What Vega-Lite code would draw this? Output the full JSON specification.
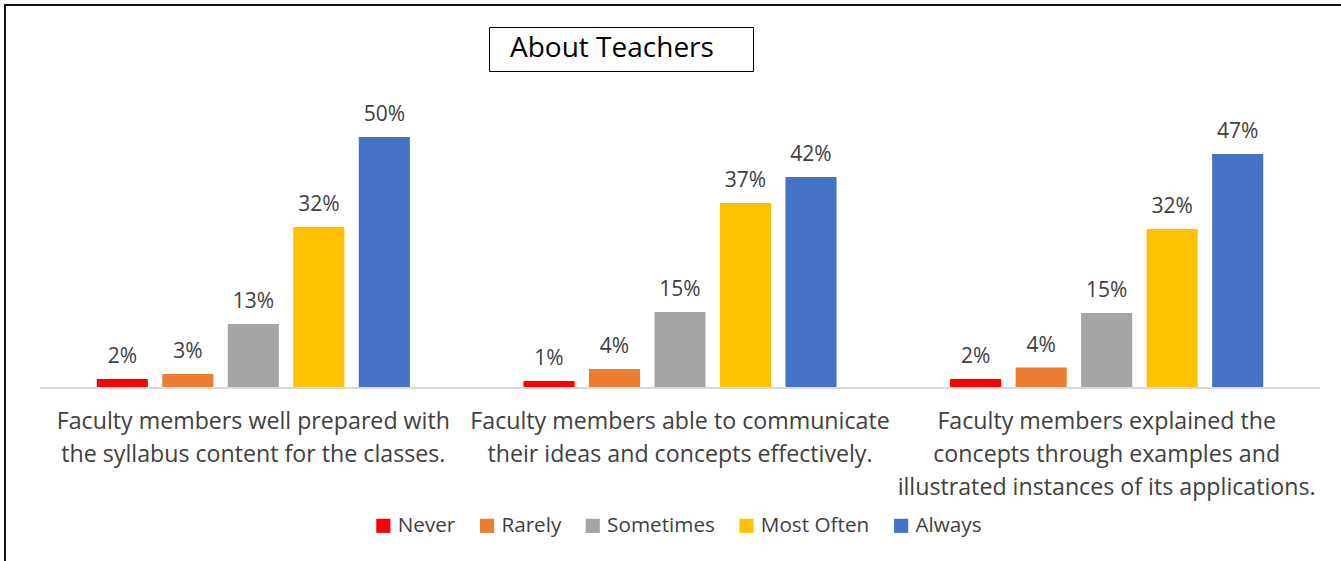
{
  "$schema": "https://vega.github.io/schema/vega-lite/v6.json",
  "width": 1342,
  "height": 562,
  "autosize": {"type": "none"},
  "padding": {"left": 5, "top": 5, "right": -6, "bottom": -6},
  "background": "white",
  "config": {
    "view": {"stroke": "#111111", "strokeWidth": 2},
    "font": "Open Sans"
  },
  "data": {
    "values": [
      {"group": "Faculty members well prepared with|the syllabus content for the classes.", "response": "Never", "value": 0.016},
      {"group": "Faculty members well prepared with|the syllabus content for the classes.", "response": "Rarely", "value": 0.026},
      {"group": "Faculty members well prepared with|the syllabus content for the classes.", "response": "Sometimes", "value": 0.126},
      {"group": "Faculty members well prepared with|the syllabus content for the classes.", "response": "Most Often", "value": 0.32},
      {"group": "Faculty members well prepared with|the syllabus content for the classes.", "response": "Always", "value": 0.5},
      {"group": "Faculty members able to communicate|their ideas and concepts effectively.", "response": "Never", "value": 0.012},
      {"group": "Faculty members able to communicate|their ideas and concepts effectively.", "response": "Rarely", "value": 0.036},
      {"group": "Faculty members able to communicate|their ideas and concepts effectively.", "response": "Sometimes", "value": 0.15},
      {"group": "Faculty members able to communicate|their ideas and concepts effectively.", "response": "Most Often", "value": 0.368},
      {"group": "Faculty members able to communicate|their ideas and concepts effectively.", "response": "Always", "value": 0.42},
      {"group": "Faculty members explained the|concepts through examples and|illustrated instances of its applications.", "response": "Never", "value": 0.016},
      {"group": "Faculty members explained the|concepts through examples and|illustrated instances of its applications.", "response": "Rarely", "value": 0.039},
      {"group": "Faculty members explained the|concepts through examples and|illustrated instances of its applications.", "response": "Sometimes", "value": 0.148},
      {"group": "Faculty members explained the|concepts through examples and|illustrated instances of its applications.", "response": "Most Often", "value": 0.316},
      {"group": "Faculty members explained the|concepts through examples and|illustrated instances of its applications.", "response": "Always", "value": 0.466}
    ]
  },
  "layer": [
    {
      "mark": {"type": "bar", "color": "#d9d9d9"},
      "encoding": {
        "x": {
          "field": "group",
          "type": "nominal",
          "sort": null,
          "scale": {"paddingInner": 0, "paddingOuter": 0.07266, "align": 0.5645},
          "axis": {
            "title": null,
            "orient": "bottom",
            "offset": -180,
            "domain": false,
            "ticks": false,
            "labelAngle": 0,
            "labelPadding": 23,
            "labelFontSize": 23.2,
            "labelFont": "Open Sans",
            "labelColor": "#404040",
            "labelLineHeight": 33,
            "labelLimit": 0,
            "labelBaseline": "top",
            "labelExpr": "split(datum.label, '|')"
          }
        },
        "y": {
          "datum": 0,
          "type": "quantitative",
          "scale": {"domain": [-0.36, 0.764], "nice": false, "zero": false},
          "axis": null
        },
        "y2": {"datum": -0.004}
      }
    },
    {
      "mark": {"type": "bar"},
      "encoding": {
        "x": {"field": "group", "type": "nominal", "sort": null},
        "xOffset": {
          "field": "response",
          "type": "nominal",
          "sort": ["Never", "Rarely", "Sometimes", "Most Often", "Always"],
          "scale": {"paddingInner": 0.22, "paddingOuter": 0.867}
        },
        "y": {"field": "value", "type": "quantitative"},
        "color": {
          "field": "response",
          "type": "nominal",
          "sort": ["Never", "Rarely", "Sometimes", "Most Often", "Always"],
          "scale": {
            "domain": ["Never", "Rarely", "Sometimes", "Most Often", "Always"],
            "range": ["#FF0000", "#ED7D31", "#A5A5A5", "#FFC000", "#4472C4"]
          },
          "legend": {
            "title": null,
            "orient": "none",
            "direction": "horizontal",
            "legendX": 368,
            "legendY": 510,
            "symbolType": "square",
            "symbolSize": 200,
            "symbolStrokeWidth": 0,
            "labelFontSize": 20.7,
            "labelFont": "Open Sans",
            "labelColor": "#404040",
            "labelOffset": 4,
            "columnPadding": 20.7
          }
        }
      }
    },
    {
      "mark": {"type": "text", "baseline": "alphabetic", "dy": -16, "fontSize": 21, "font": "Open Sans", "color": "#404040"},
      "encoding": {
        "x": {"field": "group", "type": "nominal", "sort": null},
        "xOffset": {
          "field": "response",
          "type": "nominal",
          "sort": ["Never", "Rarely", "Sometimes", "Most Often", "Always"]
        },
        "y": {"field": "value", "type": "quantitative"},
        "text": {"field": "value", "type": "quantitative", "format": ".0%"},
        "opacity": {
          "datum": "About Teachers",
          "type": "ordinal",
          "scale": {"domain": ["About Teachers", "\u00a0"], "range": [1, 1]},
          "legend": {
            "title": null,
            "orient": "none",
            "direction": "horizontal",
            "legendX": 484,
            "legendY": 22,
            "padding": 8,
            "strokeColor": "#000000",
            "symbolFillColor": "#ffffff",
            "symbolStrokeColor": "#ffffff",
            "symbolStrokeWidth": 0,
            "symbolSize": 0.01,
            "labelOffset": -15,
            "columnPadding": 16,
            "labelFontSize": 28,
            "labelFont": "Open Sans",
            "labelColor": "#000000",
            "labelLimit": 0
          }
        }
      }
    }
  ]
}
